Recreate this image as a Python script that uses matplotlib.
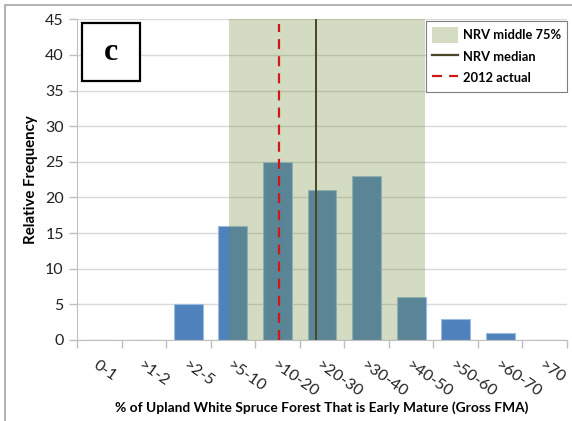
import numpy as np
import matplotlib
matplotlib.use("Agg")
import matplotlib.pyplot as plt
from matplotlib.patches import Patch, Rectangle
from matplotlib.lines import Line2D

plt.rcParams['font.family'] = ['Lato', 'DejaVu Sans']

categories = ['0-1', '>1-2', '>2-5', '>5-10', '>10-20', '>20-30',
              '>30-40', '>40-50', '>50-60', '>60-70', '>70']
frequency = [0, 0, 5, 16, 25, 21, 23, 6, 3, 1, 0]

# NRV ranges expressed in category positions
nrv_low = 2.91
nrv_high = 7.32
nrv_median = 4.86
actual_2012 = 4.04

fig = plt.figure(figsize=(5.72, 4.21), dpi=100)
ax = fig.add_axes([0.1346, 0.1924, 0.9913 - 0.1346, 0.954 - 0.1924])

# outer frame of the figure
fig.patches.append(Rectangle((5 / 572, -0.01), 1.0, 1.0 - 5 / 421 + 0.01,
                             transform=fig.transFigure, fill=False,
                             edgecolor='#A6A6A6', linewidth=1.2))

x = np.arange(len(categories))
ax.bar(x, frequency, width=0.65, color='#4F81BD', edgecolor='#9DBBE0',
       linewidth=0.8, zorder=2)
ax.axvspan(nrv_low, nrv_high, color='#749140', alpha=0.31, linewidth=0, zorder=3)
ax.axvline(nrv_median, color='#4A452A', linewidth=1.4, zorder=4)
ax.axvline(actual_2012, ymax=0.985, color='#D01818', linewidth=1.6,
           dashes=(4.5, 3.2), zorder=4)

ax.set_xlim(-0.5, len(categories) - 0.5)
ax.set_ylim(0, 45)
ax.set_yticks(range(0, 46, 5))
ax.yaxis.grid(True, color='#D9D9D9', linewidth=1, zorder=0)
ax.set_axisbelow(True)

ax.set_xticks(x)
ax.set_xticklabels(categories, rotation=-35, ha='left', va='top',
                   rotation_mode='anchor', fontsize=11.5, color='#222222')
ax.tick_params(axis='x', which='major', length=0, pad=13)
ax.set_xticks(np.arange(len(categories) + 1) - 0.5, minor=True)
ax.tick_params(axis='x', which='minor', length=6, color='#BFBFBF', width=1)
ax.tick_params(axis='y', length=6, color='#BFBFBF', width=1, labelsize=11.5,
               labelcolor='#222222')

for side in ['top', 'right']:
    ax.spines[side].set_visible(False)
ax.spines['left'].set_color('#BFBFBF')
ax.spines['bottom'].set_color('#BFBFBF')

ax.set_ylabel('Relative Frequency', fontsize=10.8, fontweight='bold', labelpad=5)
ax.set_xlabel('% of Upland White Spruce Forest That is Early Mature (Gross FMA)',
              fontsize=9.9, fontweight='bold', labelpad=1.5)

# panel letter
ax.add_patch(Rectangle((0.0102, 0.807), 0.1184, 0.1805, transform=ax.transAxes,
                       facecolor='white', edgecolor='black', linewidth=1.6,
                       zorder=6))
ax.text(0.0694, 0.897, 'c', transform=ax.transAxes, ha='center', va='center',
        fontsize=23, fontweight='bold', family='Liberation Serif', zorder=7)

handles = [Patch(facecolor='#D4DDC4', edgecolor='none', label='NRV middle 75%'),
           Line2D([], [], color='#4A452A', linewidth=1.6, label='NRV median'),
           Line2D([], [], color='#D01818', linewidth=1.6, dashes=(4.5, 3.2),
                  label='2012 actual')]
leg = ax.legend(handles=handles, loc='upper right', bbox_to_anchor=(1.0, 0.9938),
                borderaxespad=0, prop={'weight': 'bold', 'size': 9.3},
                frameon=True, fancybox=False, edgecolor='#7F7F7F', framealpha=1,
                handlelength=2.0, handleheight=1.5, borderpad=0.45,
                labelspacing=0.45, handletextpad=0.4)
leg.get_frame().set_linewidth(0.8)
leg.set_zorder(8)

fig.savefig('out.png', dpi=100)
